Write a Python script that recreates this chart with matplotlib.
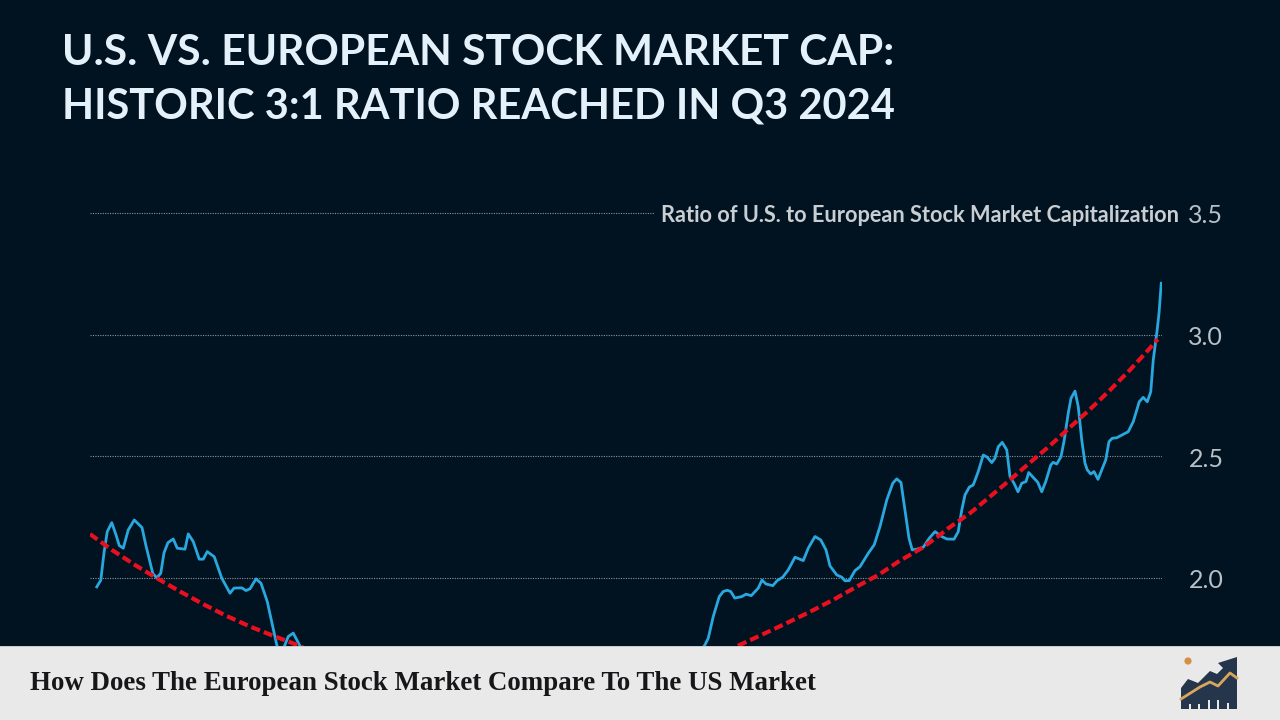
import matplotlib
matplotlib.use("Agg")
from matplotlib import pyplot as plt
from matplotlib.patches import Polygon, Rectangle, Circle
from matplotlib.transforms import ScaledTranslation

bg = "#011321"

title_lines = ["U.S. VS. EUROPEAN STOCK MARKET CAP:", "HISTORIC 3:1 RATIO REACHED IN Q3 2024"]
chart_label = "Ratio of U.S. to European Stock Market Capitalization"
footer_text = "How Does The European Stock Market Compare To The US Market"
y_ticks = [2.0, 2.5, 3.0, 3.5]

# the stretch from 1990 to 2006 sits behind the footer so it is a guess
ratio_years = [
    1982.03, 1982.19, 1982.32, 1982.45, 1982.63, 1982.80, 1982.93, 1983.09, 1983.29, 1983.53,
    1983.84, 1983.99, 1984.27, 1984.43, 1984.59, 1984.72, 1984.88, 1985.09, 1985.25, 1985.56,
    1985.69, 1985.89, 1986.13, 1986.29, 1986.45, 1986.73, 1987.03, 1987.36, 1987.52, 1987.83,
    1988.00, 1988.16, 1988.40, 1988.60, 1988.85, 1989.23, 1989.36, 1989.56, 1989.69, 1989.89,
    1990.16, 1991.5, 1994.0, 1997.0, 2000.0, 2003.0, 2005.5, 2006.36, 2006.49, 2006.69,
    2006.93, 2007.09, 2007.25, 2007.39, 2007.55, 2007.83, 2008.00, 2008.21, 2008.49, 2008.64,
    2008.80, 2009.07, 2009.25, 2009.47, 2009.69, 2009.96, 2010.29, 2010.49, 2010.76, 2010.99,
    2011.20, 2011.36, 2011.63, 2011.83, 2011.96, 2012.13, 2012.36, 2012.56, 2012.89, 2013.13,
    2013.36, 2013.63, 2013.87, 2014.03, 2014.20, 2014.36, 2014.52, 2014.65, 2014.83, 2015.09,
    2015.33, 2015.56, 2015.83, 2016.03, 2016.32, 2016.49, 2016.63, 2016.76, 2016.93, 2017.09,
    2017.29, 2017.49, 2017.65, 2017.83, 2017.96, 2018.09, 2018.25, 2018.43, 2018.56, 2018.72,
    2018.88, 2019.03, 2019.20, 2019.31, 2019.52, 2019.67, 2019.83, 2019.99, 2020.19, 2020.29,
    2020.43, 2020.60, 2020.73, 2020.89, 2021.00, 2021.16, 2021.29, 2021.43, 2021.56, 2021.65,
    2021.79, 2021.92, 2022.08, 2022.23, 2022.39, 2022.52, 2022.65, 2022.83, 2023.03, 2023.29,
    2023.49, 2023.73, 2023.89, 2024.05, 2024.19, 2024.29, 2024.43, 2024.52, 2024.61,
]
ratio_values = [
    1.963, 1.990, 2.103, 2.190, 2.227, 2.177, 2.133, 2.122, 2.197, 2.238,
    2.207, 2.136, 2.019, 2.000, 2.019, 2.103, 2.145, 2.160, 2.122, 2.118,
    2.181, 2.149, 2.077, 2.077, 2.108, 2.087, 1.999, 1.937, 1.958, 1.959,
    1.948, 1.955, 1.996, 1.978, 1.903, 1.725, 1.680, 1.725, 1.759, 1.773,
    1.720, 1.55, 1.45, 1.30, 1.35, 1.45, 1.60, 1.725, 1.752, 1.841,
    1.923, 1.944, 1.949, 1.944, 1.917, 1.923, 1.933, 1.927, 1.958, 1.991,
    1.975, 1.968, 1.989, 2.003, 2.033, 2.085, 2.071, 2.122, 2.170, 2.156,
    2.115, 2.049, 2.012, 2.003, 1.988, 1.989, 2.030, 2.046, 2.101, 2.136,
    2.211, 2.320, 2.389, 2.407, 2.392, 2.279, 2.163, 2.115, 2.118, 2.126,
    2.163, 2.190, 2.170, 2.160, 2.159, 2.190, 2.279, 2.341, 2.373, 2.382,
    2.437, 2.505, 2.496, 2.474, 2.492, 2.539, 2.557, 2.526, 2.416, 2.389,
    2.354, 2.389, 2.396, 2.433, 2.410, 2.393, 2.354, 2.396, 2.464, 2.475,
    2.468, 2.498, 2.567, 2.677, 2.738, 2.768, 2.704, 2.567, 2.471, 2.444,
    2.427, 2.437, 2.405, 2.444, 2.485, 2.560, 2.574, 2.576, 2.587, 2.601,
    2.642, 2.724, 2.742, 2.724, 2.765, 2.896, 3.005, 3.087, 3.211,
]

trend_years = [
    1981.76, 1982.68, 1983.56, 1984.43, 1985.36, 1986.29, 1987.19, 1988.16, 1989.09, 1990.16,
    1992.0, 1995.0, 1998.0, 2001.0, 2004.0, 2006.0, 2007.7, 2008.63, 2009.56, 2010.49,
    2011.49, 2012.43, 2013.29, 2014.16, 2015.09, 2015.76, 2016.09, 2016.96, 2017.76, 2018.56,
    2019.36, 2020.16, 2020.96, 2021.76, 2022.56, 2023.36, 2024.03, 2024.47,
]
trend_values = [
    2.180, 2.112, 2.053, 1.999, 1.944, 1.892, 1.845, 1.800, 1.762, 1.720,
    1.62, 1.50, 1.43, 1.43, 1.51, 1.60, 1.722, 1.766, 1.811, 1.857,
    1.910, 1.964, 2.012, 2.071, 2.126, 2.177, 2.204, 2.266, 2.334, 2.403,
    2.474, 2.544, 2.619, 2.693, 2.772, 2.855, 2.930, 2.981,
]

fig = plt.figure(figsize=(12.8, 7.2), dpi=100, facecolor=bg)

# axes box runs from the left end of the gridlines down to the top of the footer
ax = fig.add_axes([90 / 1280, (720 - 646) / 720, (1162 - 90) / 1280, (646 - 190) / 720])
ax.set_facecolor(bg)
ax.set_xlim(1981.76, 2024.64)
ax.set_ylim(1.72, 3.5945)

ax.plot(ratio_years, ratio_values, color="#29a8df", lw=2.0, zorder=3, solid_joinstyle="round")
ax.plot(trend_years, trend_values, color="#e8101e", lw=3.0, dashes=(2.2, 1.0), zorder=4)

for side in ax.spines:
    ax.spines[side].set_visible(False)
ax.set_xticks([])
ax.yaxis.tick_right()
ax.set_yticks(y_ticks)
ax.set_yticklabels(["%.1f" % v for v in y_ticks], fontfamily="Lato", fontsize=18, color="#b9c1c7")
ax.tick_params(axis="y", length=0, pad=19)
ax.grid(axis="y", color="#8b959c", lw=0.8, ls=(0, (1, 1.2)), zorder=1)
# the labels sit a touch under their gridlines in the original
for lab in ax.get_yticklabels():
    lab.set_transform(lab.get_transform() + ScaledTranslation(0, -1 / 100, fig.dpi_scale_trans))

fig.text(1179 / 1280, (720 - 215) / 720, chart_label, ha="right", va="center", color="#c8ced2",
         fontfamily="Lato", fontsize=15.7, fontweight="bold", zorder=5,
         bbox=dict(facecolor=bg, edgecolor="none", pad=5))

fig.text(62 / 1280, (720 - 53) / 720, title_lines[0], ha="left", va="center", color="#e4f1fb",
         fontfamily="Lato", fontsize=30.6, fontweight="bold")
fig.text(62 / 1280, (720 - 107) / 720, title_lines[1], ha="left", va="center", color="#e4f1fb",
         fontfamily="Lato", fontsize=30, fontweight="bold")

# footer strip and the little logo, drawn in pixel coordinates
over = fig.add_axes([0, 0, 1, 1], facecolor="none", zorder=10)
over.set_xlim(0, 1280)
over.set_ylim(720, 0)
over.axis("off")
over.add_patch(Rectangle((0, 646), 1280, 74, facecolor="#e9e9e9", edgecolor="none"))
over.add_patch(Rectangle((0, 645.5), 1280, 1.5, facecolor="#c9cdd0", edgecolor="none"))
over.text(30, 684, footer_text, ha="left", va="center", color="#17171a",
          fontfamily="Liberation Serif", fontsize=19.4, fontweight="bold")

logo_body = [(1181, 688), (1188, 679), (1198, 683), (1210, 671), (1217, 674), (1223, 668),
             (1218, 663), (1237, 657), (1237, 709), (1181, 709)]
over.add_patch(Polygon(logo_body, closed=True, facecolor="#25364c", edgecolor="none"))
for bx, btop in [(1190, 704), (1199, 704), (1209, 700), (1218, 700), (1228, 703)]:
    over.add_patch(Rectangle((bx - 1, btop), 2, 709 - btop, facecolor="#e9e9e9", edgecolor="none"))
over.plot([1181, 1200, 1210, 1218, 1230, 1237], [699, 687, 682, 686, 673, 678], color="#d9a75c", lw=2)
over.add_patch(Circle((1188, 661), 3.6, facecolor="#d68f45", edgecolor="none"))

fig.savefig("out.png", dpi=100, facecolor=bg)
